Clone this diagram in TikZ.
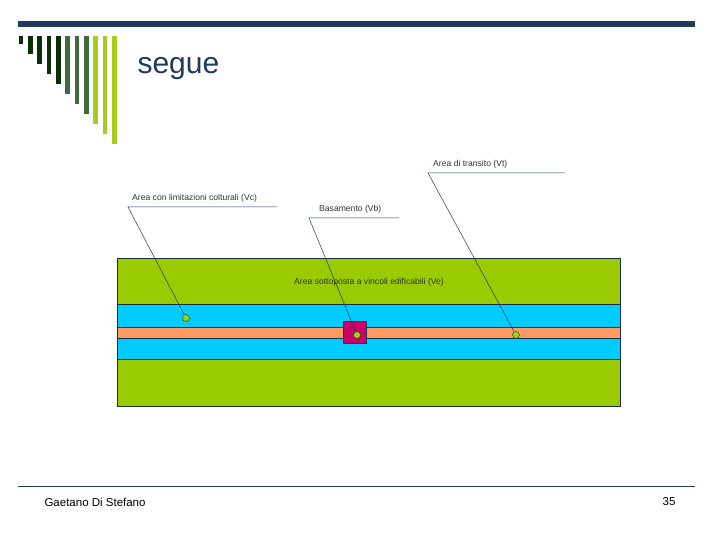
\documentclass[tikz,border=0pt]{standalone}
\usepackage{fontspec}
\setmainfont{Liberation Sans}
\definecolor{navy}{HTML}{1F3A5A}
\definecolor{dg}{HTML}{0B2E0B}
\definecolor{mg}{HTML}{3E6B3E}
\definecolor{lg}{HTML}{A6CC1E}
\definecolor{vgreen}{HTML}{99CC00}
\definecolor{vblue}{HTML}{00CCFF}
\definecolor{vorange}{HTML}{FF9966}
\definecolor{vpink}{HTML}{CC0066}
\begin{document}
\begin{tikzpicture}[x=1pt,y=-1pt,
  lbl/.style={font=\fontsize{8.6}{10}\selectfont, text=black!80, inner sep=1pt},
  lead/.style={draw=navy, line width=0.5pt},
  dot/.style={circle, draw=green!30!black, fill=lg, minimum size=7pt, inner sep=0pt},
  band/.style={draw=navy!80!black, line width=0.6pt}]
\useasboundingbox (0,0) rectangle (720,540);
\fill[navy] (18,21) rectangle (695,27);
\foreach \i in {0,...,10}{
  \pgfmathsetmacro{\xx}{18.5+\i*9.35}
  \pgfmathsetmacro{\yb}{44+\i*10}
  \ifnum\i<5 \def\cc{dg}\else\ifnum\i<8 \def\cc{mg}\else\def\cc{lg}\fi\fi
  \fill[\cc] (\xx,36) rectangle (\xx+4.8,\yb);
}
\node[anchor=west, text=navy, font=\fontsize{30}{34}\selectfont] (title) at (134,69) {segue};
% bands
\filldraw[band, fill=vgreen] (117,258) rectangle (620,406);
\filldraw[band, fill=vblue] (117,304) rectangle (620,359);
\filldraw[band, fill=vorange] (117,327) rectangle (620,338);
\node[lbl] (ve) at (369,282) {Area sottoposta a vincoli edificabili (Ve)};
\filldraw[draw=navy, fill=vpink] (343,321) rectangle (366,343);
\node[dot] (d1) at (186,318) {};
\node[dot] (d2) at (357,335) {};
\node[dot] (d3) at (516,335) {};
% callouts
\node[lbl, anchor=west] (vc) at (131,198) {Area con limitazioni colturali (Vc)};
\coordinate (vca) at (128,207); \coordinate (vcb) at (277,207);
\draw[lead] (vcb) -- (vca) -- (d1);
\node[lbl, anchor=west] (vb) at (318,209) {Basamento (Vb)};
\coordinate (vba) at (309,218); \coordinate (vbb) at (399,218);
\draw[lead] (vbb) -- (vba) -- (d2);
\node[lbl, anchor=west] (vt) at (432,164) {Area di transito (Vt)};
\coordinate (vta) at (428,173); \coordinate (vtb) at (565,173);
\draw[lead] (vtb) -- (vta) -- (d3);
% footer
\draw[navy, line width=1pt] (18,486) -- (695,486);
\node[anchor=west, font=\fontsize{11.5}{13}\selectfont] (auth) at (41,502) {Gaetano Di Stefano};
\node[anchor=east, font=\fontsize{11.5}{13}\selectfont] (pg) at (679,502) {35};
\end{tikzpicture}
\end{document}
